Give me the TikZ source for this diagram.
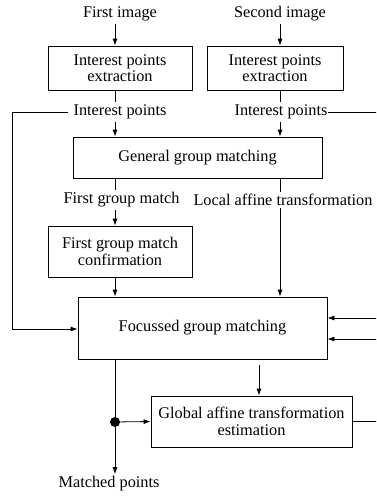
\documentclass[tikz,border=0pt]{standalone}
\usepackage{fontspec}
\setmainfont{Liberation Serif}
\usetikzlibrary{arrows.meta,calc}
\begin{document}
\begin{tikzpicture}[x=1pt,y=-1pt,
  font=\fontsize{16.3}{16.5}\selectfont,
  line width=0.8pt,
  arr/.style={-{Latex[length=7pt,width=5pt]}},
  box/.style={draw,align=center,inner sep=0pt},
  lbl/.style={inner sep=2pt}]
\useasboundingbox (0,0) rectangle (376,496);
\clip (0,0) rectangle (376,496);
\coordinate (xL) at (115,0);
\coordinate (xR) at (280,0);
\coordinate (xE) at (385,0);
\coordinate (xW) at (12,0);
% texts
\node[lbl] (t1) at (120,14) {First image};
\node[lbl] (t2) at (280,14) {Second image};
\node[box,minimum width=144pt,minimum height=44pt] (b1) at (120,68) {Interest points\\extraction};
\node[box,minimum width=136pt,minimum height=44pt] (b2) at (275,68) {Interest points\\extraction};
\node[lbl,inner xsep=5pt] (ip1) at (120,112) {Interest points};
\node[lbl,inner xsep=0pt] (ip2) at (281,112) {Interest points};
\node[box,minimum width=249pt,minimum height=41pt] (gg) at (197.5,157.5) {General group matching};
\node[lbl] (fm) at (121.5,200) {First group match};
\node[lbl] (la) at (283,200) {Local affine transformation};
\node[box,minimum width=144pt,minimum height=51pt] (cf) at (120,251.5) {First group match\\confirmation};
\node[box,minimum width=249pt,minimum height=62pt] (fg) at (202.5,328) {Focussed group matching};
\node[box,minimum width=201pt,minimum height=51pt] (ga) at (251.5,421.5) {Global affine transformation\\estimation};
\node[lbl] (mp) at (109,484) {Matched points};
\coordinate (dot) at (115,422);
% connectors
\draw[arr] (t1.south -| xL) -- (b1.north -| xL);
\draw[arr] (t2.south -| xR) -- (b2.north -| xR);
\draw (b1.south -| xL) -- (ip1.north -| xL);
\draw (b2.south -| xR) -- (ip2.north -| xR);
\draw[arr] (ip1.south -| xL) -- (gg.north -| xL);
\draw[arr] (ip2.south -| xR) -- (gg.north -| xR);
\draw (gg.south -| xL) -- (fm.north -| xL);
\draw (gg.south -| xR) -- (la.north -| xR);
\draw[arr] (fm.south -| xL) -- (cf.north -| xL);
\draw[arr] (cf.south -| xL) -- (fg.north -| xL);
\draw[arr] (la.south -| xR) -- (fg.north -| xR);
\draw[arr] (ip1.west) -| ($(fg.west -| xW)+(0,1)$) -- ($(fg.west)+(0,1)$);
\draw[arr] (ip2.east) -| ($(fg.east -| xE)+(0,-10)$) -- ($(fg.east)+(0,-10)$);
\draw[arr] (ga.east) -| ($(fg.east -| xE)+(0,11)$) -- ($(fg.east)+(0,11)$);
\draw[arr] (fg.south -| xL) -- (mp.north -| xL);
\fill (dot) circle (5pt);
\draw[arr] (dot) -- (ga.west);
\draw[arr] ($(fg.south)+(56.5,6)$) -- ($(ga.north)+(7.5,0)$);
\end{tikzpicture}
\end{document}
